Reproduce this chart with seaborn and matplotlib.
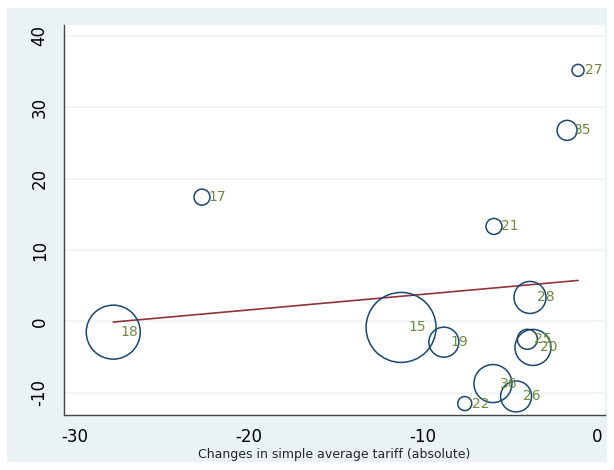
import numpy as np
import pandas as pd
import matplotlib
matplotlib.use("Agg")
import matplotlib.pyplot as plt
from matplotlib.patches import Rectangle
import seaborn as sns

# data
labels = ["27", "35", "17", "21", "28", "18", "15", "19", "25", "20", "36", "26", "22"]
tariff_change = [-1.09, -1.72, -22.7, -5.92, -3.85, -27.8, -11.26, -8.8, -4.0, -3.68, -5.98, -4.65, -7.6]
outcome = [35.15, 26.75, 17.4, 13.3, 3.36, -1.5, -0.84, -2.9, -2.5, -3.64, -8.7, -10.5, -11.5]
weight = [36, 100, 64, 64, 256, 729, 1225, 225, 100, 324, 361, 240, 49]

df = pd.DataFrame({"label": labels, "x": tariff_change, "y": outcome, "w": weight})

sns.set_style("white")
plt.rcParams["font.family"] = ["DejaVu Sans"]

navy = "#1a476f"
maroon = "#90353b"
green = "#6e8b3d"
bg = "#eaf2f3"

fig = plt.figure(figsize=(6.14, 4.70), dpi=100)
# outer graph region
fig.patches.append(Rectangle((7 / 614, 8 / 470), 600 / 614, 454 / 470,
                             transform=fig.transFigure, facecolor=bg, edgecolor="none", zorder=-1))
ax = fig.add_axes([64 / 614, 55 / 470, 541 / 614, 390 / 470])
ax.set_zorder(1)
ax.set_facecolor("white")

# bubble area proportional to weight
smax = 2.0736 * max(weight)
sns.scatterplot(data=df, x="x", y="y", size="w", size_norm=(0, max(weight)),
                sizes=(0, smax), facecolor="none", edgecolor=navy, linewidth=1.1,
                legend=False, ax=ax, zorder=3)

sns.regplot(data=df, x="x", y="y", scatter=False, ci=None, ax=ax,
            line_kws={"color": maroon, "linewidth": 1.2, "zorder": 2})

for _, r in df.iterrows():
    ax.annotate(r["label"], (r["x"], r["y"]), xytext=(5, 0), textcoords="offset points",
                ha="left", va="center", color=green, fontsize=10, zorder=4)

ax.set_xlim(-30.63, 0.46)
ax.set_ylim(-13.1, 41.5)
ax.set_xticks([-30, -20, -10, 0])
ax.set_yticks([-10, 0, 10, 20, 30, 40])
ax.set_xticklabels(["-30", "-20", "-10", "0"])
ax.set_yticklabels(["-10", "0", "10", "20", "30", "40"], rotation=90, va="center")
ax.tick_params(axis="both", direction="out", length=5, width=1, color="#444444",
               labelsize=12, labelcolor="black", pad=4)
ax.tick_params(axis="y", pad=6)

ax.grid(True, axis="y", color="#eef4f5", linewidth=1.2)
ax.set_axisbelow(True)
for side in ["top", "right"]:
    ax.spines[side].set_visible(False)
for side in ["left", "bottom"]:
    ax.spines[side].set_color("#444444")
    ax.spines[side].set_linewidth(1)

ax.set_xlabel("Changes in simple average tariff (absolute)", fontsize=9, labelpad=2)
ax.set_ylabel("")

fig.savefig("out.png", dpi=100, facecolor="white")
